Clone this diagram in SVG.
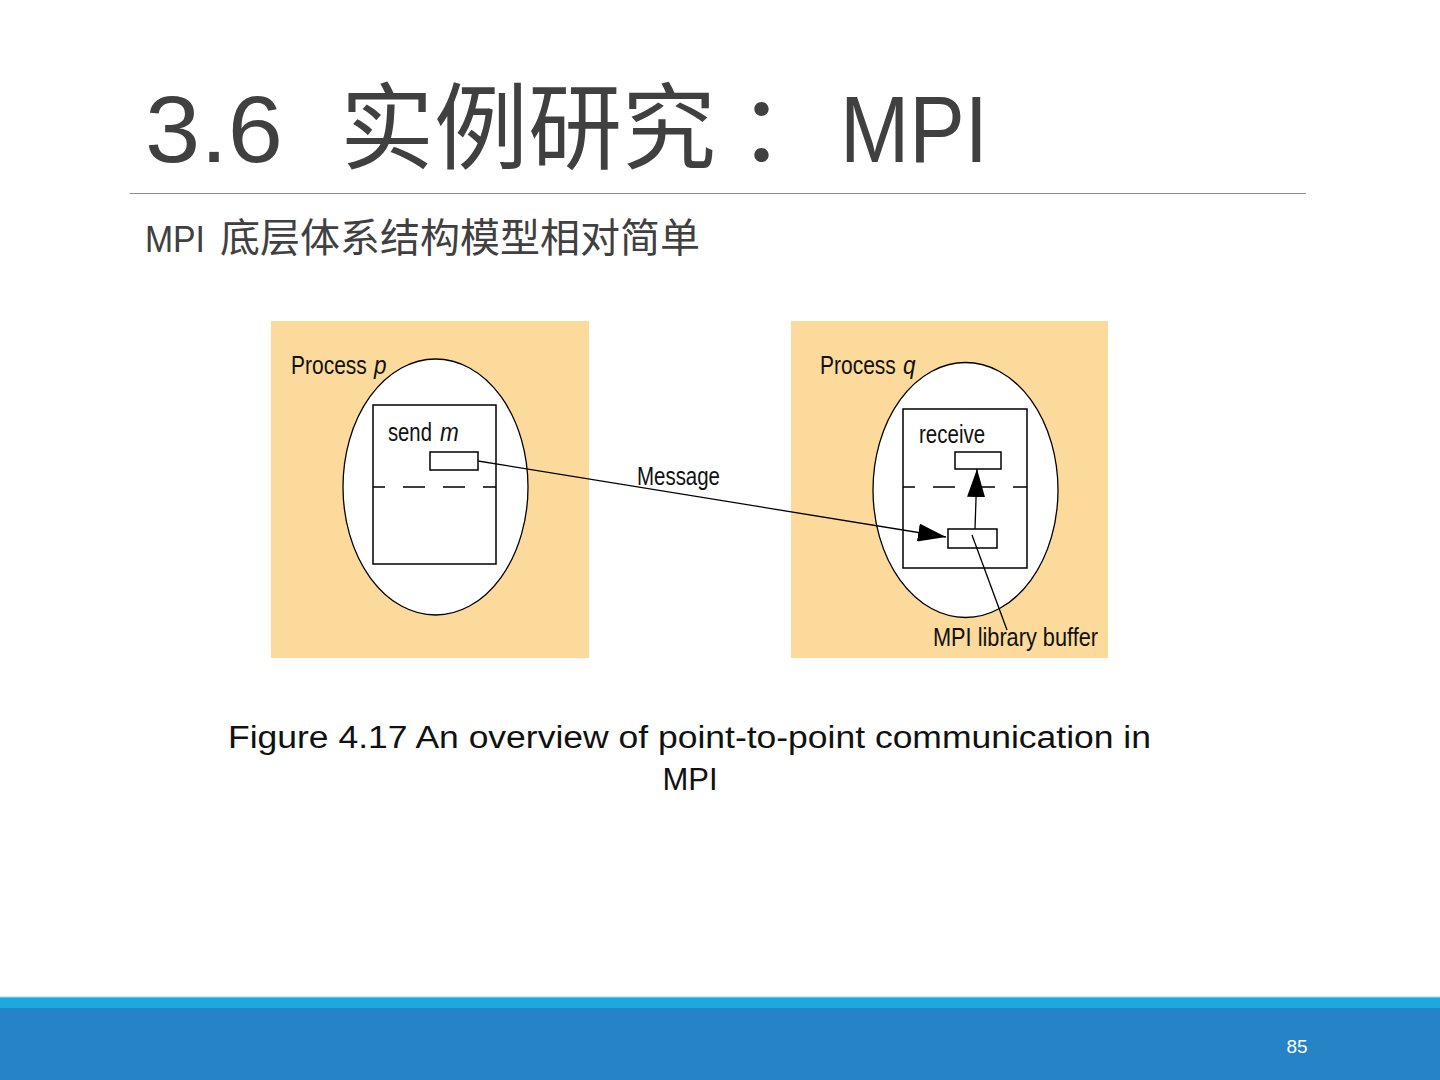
<svg xmlns="http://www.w3.org/2000/svg" width="1440" height="1080" viewBox="0 0 1440 1080">
<defs>
<style>
.panel{fill:#FCDA9B;stroke:none}
.ell{fill:#fff;stroke:#000;stroke-width:1.3}
.box{fill:#fff;stroke:#000;stroke-width:1.5}
.dash{stroke:#000;stroke-width:1.5;stroke-dasharray:22 18;fill:none}
.ln{stroke:#000;stroke-width:1.3;fill:none}
.lbl{font-family:"Liberation Sans",Arial,sans-serif;font-size:25px;fill:#111}
.it{font-style:italic}
.ttl{font-family:"Liberation Sans","Noto Sans CJK SC",sans-serif;font-size:94px;fill:#404040}
</style>
<marker id="ah" markerWidth="28" markerHeight="18" refX="28" refY="9" orient="auto" markerUnits="userSpaceOnUse">
<path d="M0,0 L28,9 L0,18 Z" fill="#000"/>
</marker>
</defs>
<rect width="1440" height="1080" fill="#fff"/>
<g id="title">
<text class="ttl" x="145" y="162" textLength="138" lengthAdjust="spacingAndGlyphs">3.6</text>
<text class="ttl" x="340" y="162">实例研究</text>
<text class="ttl" x="738" y="162">：</text>
<text class="ttl" x="840" y="162" textLength="148" lengthAdjust="spacingAndGlyphs">MPI</text>
<line x1="130" y1="193.5" x2="1306" y2="193.5" stroke="#8a8a8a" stroke-width="1"/>
</g>
<g id="subtitle">
<text x="145" y="252" font-family="'Liberation Sans','Noto Sans CJK SC',sans-serif" font-size="36" fill="#404040" textLength="60" lengthAdjust="spacingAndGlyphs">MPI</text>
<text x="220" y="252" font-family="'Noto Sans CJK SC',sans-serif" font-size="40" fill="#404040">底层体系结构模型相对简单</text>
</g>
<g id="process-p">
<rect class="panel" x="271" y="321" width="318" height="337"/>
<ellipse class="ell" cx="435.5" cy="487" rx="92.5" ry="128"/>
<rect class="box" x="373" y="405" width="123" height="159"/>
<line class="dash" x1="373" y1="487" x2="496" y2="487" stroke-dashoffset="10"/>
<rect class="box" x="430" y="452" width="48" height="18"/>
<text class="lbl" transform="translate(291,374) scale(0.84,1)">Process</text>
<text class="lbl it" transform="translate(374,374) scale(0.9,1)">p</text>
<text class="lbl" transform="translate(388,441) scale(0.81,1)">send</text>
<text class="lbl it" transform="translate(440,441) scale(0.9,1)">m</text>
</g>
<g id="process-q">
<rect class="panel" x="791" y="321" width="317" height="337"/>
<ellipse class="ell" cx="965.5" cy="490" rx="92.5" ry="127.5"/>
<rect class="box" x="903" y="409" width="124" height="159"/>
<line class="dash" x1="903" y1="487" x2="1027" y2="487" stroke-dashoffset="10"/>
<rect class="box" x="955" y="452" width="46" height="17"/>
<rect class="box" x="948" y="529" width="49" height="19"/>
<text class="lbl" transform="translate(820,374) scale(0.84,1)">Process</text>
<text class="lbl it" transform="translate(903,374) scale(0.9,1)">q</text>
<text class="lbl" transform="translate(919,443) scale(0.82,1)">receive</text>
<text class="lbl" x="933" y="646" textLength="165" lengthAdjust="spacingAndGlyphs">MPI library buffer</text>
</g>
<g id="connectors">
<line class="ln" x1="478" y1="461" x2="946" y2="537" marker-end="url(#ah)"/>
<line class="ln" x1="975" y1="529" x2="977" y2="469" marker-end="url(#ah)"/>
<line class="ln" x1="972" y1="535" x2="1007" y2="630"/>
<text class="lbl" x="637" y="485" textLength="83" lengthAdjust="spacingAndGlyphs">Message</text>
</g>
<g id="caption">
<text x="228" y="748" textLength="923" lengthAdjust="spacingAndGlyphs" font-family="'Liberation Sans',Arial,sans-serif" font-size="31" fill="#111">Figure 4.17 An overview of point-to-point communication in</text>
<text x="690" y="790" text-anchor="middle" font-family="'Liberation Sans',Arial,sans-serif" font-size="31" fill="#111">MPI</text>
</g>
<g id="footer">
<rect x="0" y="997" width="1440" height="83" fill="#2683C6"/>
<rect x="0" y="997" width="1440" height="11" fill="#1EA8E2"/>
<line x1="0" y1="997" x2="1440" y2="997" stroke="#9ADAF2" stroke-width="1"/>
<text x="1297" y="1053" text-anchor="middle" font-family="'Liberation Sans',Arial,sans-serif" font-size="19" fill="#fff">85</text>
</g>
</svg>
